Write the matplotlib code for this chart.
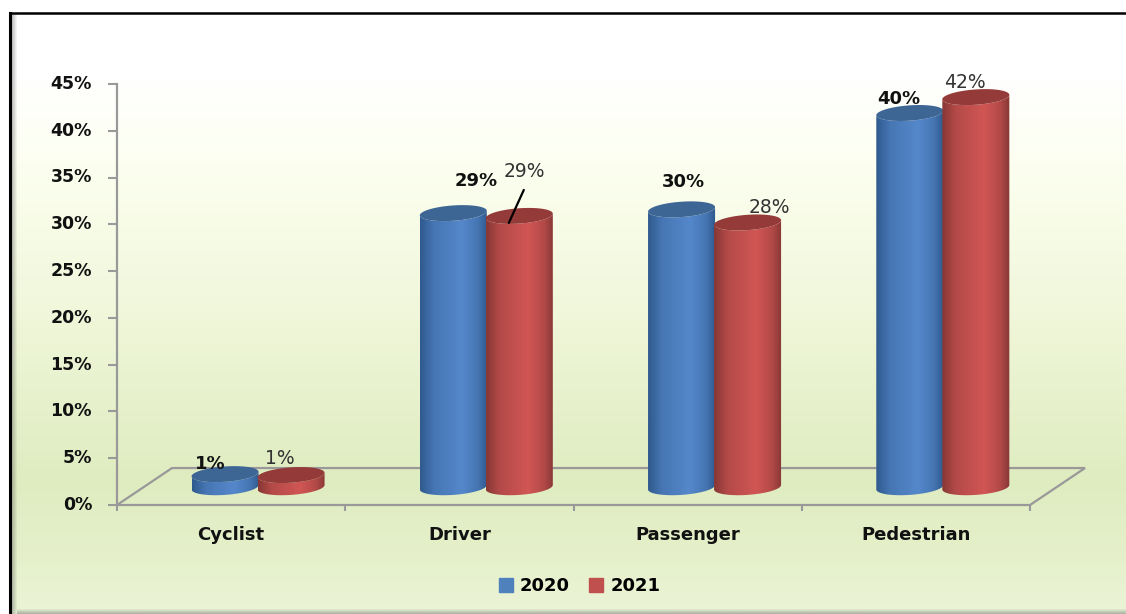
import numpy as np
import matplotlib
matplotlib.use('Agg')
import matplotlib.pyplot as plt
from matplotlib.colors import LinearSegmentedColormap
from matplotlib.patches import Patch, PathPatch
from matplotlib.path import Path
from matplotlib.transforms import ScaledTranslation

W, H = 1126, 614

categories = ['Cyclist', 'Driver', 'Passenger', 'Pedestrian']
years = ['2020', '2021']
values_2020 = [1.4, 29.3, 29.7, 40.0]
values_2021 = [1.3, 29.0, 28.3, 41.7]
labels_2020 = ['1%', '29%', '30%', '40%']
labels_2021 = ['1%', '29%', '28%', '42%']
yticks = [0, 5, 10, 15, 20, 25, 30, 35, 40, 45]

plt.rcParams['font.family'] = 'DejaVu Sans'

# label offsets from the top of each cylinder, in pixels
offs_2020 = [(-15, 10), (23, 32), (2, 27), (-11, 14)]
offs_2021 = [(-11, 17), (5, 44), (22, 15), (-11, 15)]

fig = plt.figure(figsize=(W / 100, H / 100), dpi=100, facecolor='white')

# background panel in pixel coordinates
bg = fig.add_axes([0, 0, 1, 1])
bg.set_xlim(0, W)
bg.set_ylim(H, 0)
bg.axis('off')
cm = LinearSegmentedColormap.from_list('panel', [
    (0.0, '#ffffff'), (0.10, '#ffffff'), (0.25, '#fcfff0'),
    (0.50, '#f0f7da'), (0.78, '#dfecc0'), (0.90, '#e5f0ca'), (1.0, '#ebf4d6')])
bg.imshow(np.linspace(0, 1, 300).reshape(-1, 1), cmap=cm, vmin=0, vmax=1,
          extent=[10, W, H, 13], aspect='auto', zorder=1)

# inner bevel
left_shade = np.zeros((1, 7, 4))
left_shade[..., :3] = 0.35
left_shade[..., 3] = np.linspace(0.45, 0, 7)
bg.imshow(left_shade, extent=[11, 18, H, 14], aspect='auto', zorder=2)
bot_shade = np.zeros((6, 1, 4))
bot_shade[..., :3] = 0.4
bot_shade[..., 3] = np.linspace(0, 0.45, 6).reshape(-1, 1)
bg.imshow(bot_shade, extent=[17, W, H, H - 6], aspect='auto', zorder=2)

bg.plot([10, 10], [H, 13], color='black', lw=2.2, zorder=3, solid_capstyle='projecting')
bg.plot([10, W], [13, 13], color='black', lw=1.8, zorder=3)
bg.set_xlim(0, W)
bg.set_ylim(H, 0)

# chart axes: 0-45% runs from pixel 505 up to 84, four categories from 117 to 1030
ax = fig.add_axes([117 / W, 1 - 505 / H, (1030 - 117) / W, (505 - 84) / H])
ax.patch.set_alpha(0)
grey = '#999999'

BASE = 1.9       # where the cylinders stand on the floor, in % units
SHIFT = 0.118    # floor depth moves cylinders right of the category centre
STEP = 0.1446
A, B, TILT = 0.1468, 0.82, 0.24


def ring(cx, cy, t):
    return cx + A * np.cos(t), cy + B * np.sin(t) + TILT * np.cos(t)


def cylinder(cx, val, dark, light, top, z):
    ytop = BASE + val
    t = np.linspace(np.pi, 2 * np.pi, 40)
    x0, y0 = ring(cx, BASE, t)
    x1, y1 = ring(cx, ytop, t[::-1])
    verts = np.column_stack([np.r_[x0, x1], np.r_[y0, y1]])
    body = PathPatch(Path(verts), transform=ax.transData, fc='none', ec='none')
    ax.add_patch(body)
    body.set_clip_on(False)
    grad = LinearSegmentedColormap.from_list('c', [dark, light, dark])
    shade = np.interp(np.linspace(0, 1, 120), [0, 0.2, 0.62, 0.85, 1], [0, 0.3, 0.5, 0.7, 1])
    im = ax.imshow(shade.reshape(1, -1), cmap=grad, vmin=0, vmax=1, aspect='auto',
                   extent=[cx - A, cx + A, BASE - 1.5, ytop + 1.5], zorder=z, clip_on=True)
    im.set_clip_path(body)
    t2 = np.linspace(0, 2 * np.pi, 80)
    xt, yt = ring(cx, ytop, t2)
    ax.fill(xt, yt, color=top, lw=0, zorder=z + 0.1, clip_on=False)


for i in range(len(categories)):
    cx = i + 0.5 + SHIFT
    cylinder(cx - STEP, values_2020[i], '#2f5a8e', '#5588cb', '#3e6695', 3 + i)
    cylinder(cx + STEP, values_2021[i], '#883836', '#d15654', '#943b39', 3.5 + i)
    ax.annotate(labels_2020[i], (cx - STEP, BASE + values_2020[i]), xytext=offs_2020[i],
                textcoords='offset pixels', ha='center', va='center', fontsize=13,
                fontweight='bold', color='#111111', zorder=20, annotation_clip=False)
    ax.annotate(labels_2021[i], (cx + STEP, BASE + values_2021[i]), xytext=offs_2021[i],
                textcoords='offset pixels', ha='center', va='center', fontsize=13.5,
                color='#333333', zorder=20, annotation_clip=False)

# leader line on the Driver 2021 label
ax.annotate('', (1 + 0.5 + SHIFT + STEP - 0.046, BASE + values_2021[1] - 0.75), xytext=(15, 33),
            textcoords='offset pixels', zorder=20,
            arrowprops=dict(arrowstyle='-', color='black', lw=1.6, shrinkA=0, shrinkB=0))

# floor of the 3D box
dx, dy = 0.241, 3.95
n = len(categories)
ax.plot([0, dx, n + dx, n], [0, dy, dy, 0], color=grey, lw=1.6, zorder=2,
        clip_on=False, solid_joinstyle='miter')

ax.set_xlim(0, n)
ax.set_ylim(0, 45)
for s in ['top', 'right']:
    ax.spines[s].set_visible(False)
for s in ['left', 'bottom']:
    ax.spines[s].set_color(grey)
    ax.spines[s].set_linewidth(1.6)
    ax.spines[s].set_zorder(2)

ax.set_yticks(yticks)
ax.set_yticklabels([str(v) + '%' for v in yticks], fontsize=12.5, fontweight='bold', color='#111111')
ax.tick_params(axis='y', length=6.5, width=1.5, color=grey, pad=11.5)
up = ScaledTranslation(0, 1.5 / 72, fig.dpi_scale_trans)
for lab in ax.get_yticklabels():
    lab.set_transform(lab.get_transform() + up)
ax.set_xticks(range(n + 1))
ax.set_xticklabels([])
ax.tick_params(axis='x', which='major', length=4.5, width=1.5, color=grey)
ax.set_xticks(np.arange(n) + 0.5, minor=True)
ax.set_xticklabels(categories, minor=True, fontsize=13, fontweight='bold', color='#111111')
ax.tick_params(axis='x', which='minor', length=0, pad=15)

handles = [Patch(color='#4f81bd', label=years[0]), Patch(color='#c0504d', label=years[1])]
fig.legend(handles=handles, loc='center', bbox_to_anchor=(579.5 / W, 1 - 586 / H), ncol=2,
           frameon=False, prop={'size': 13, 'weight': 'bold'}, handlelength=0.78,
           handleheight=0.78, handletextpad=0.4, columnspacing=1.05, borderpad=0)

fig.savefig('out.png', dpi=100, facecolor='white')
